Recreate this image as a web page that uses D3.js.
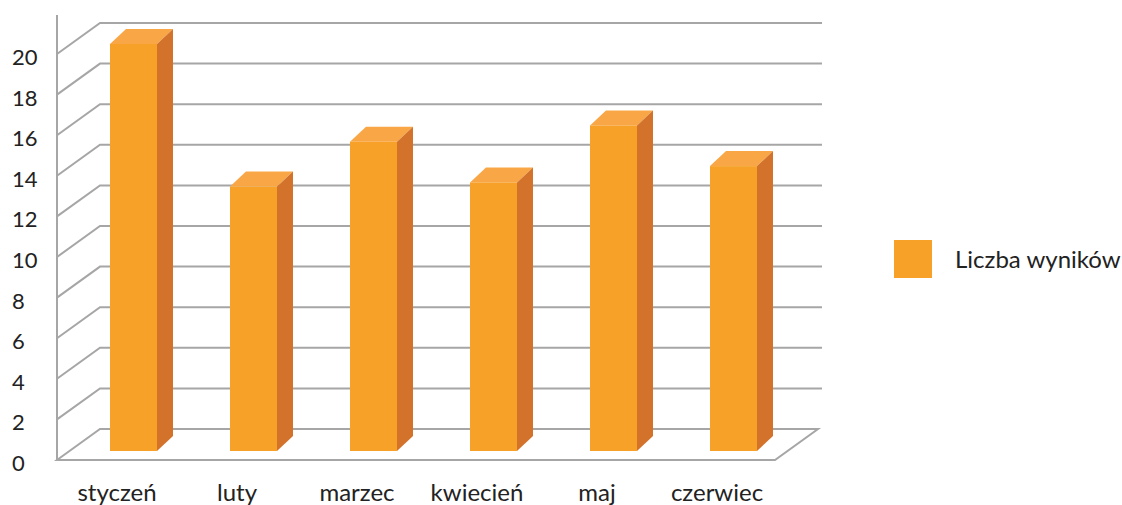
<!DOCTYPE html>
<meta charset="utf-8">
<script src="https://cdn.jsdelivr.net/npm/d3@7"></script>
<style>
  body { margin: 0; background: #fff; }
  text { font-family: Lato, "Open Sans", sans-serif; fill: #222; }
</style>
<svg></svg>
<script>
    var months = ['styczeń', 'luty', 'marzec', 'kwiecień', 'maj', 'czerwiec'];
    var values = [20, 13, 15.2, 13.2, 16, 14];
    var yTicks = [0, 2, 4, 6, 8, 10, 12, 14, 16, 18, 20];
    var seriesName = 'Liczba wyników';

    var svg = d3.select('svg').attr('width', 1122).attr('height', 505);
    var gridColor = '#a6a6a6';
    var depthX = 43, depthY = -31;

    var x = d3.scaleBand().domain(months).range([57, 777]);
    var y = d3.scaleLinear().domain([0, 20]).range([460, 54]);
    var barY = d3.scaleLinear().domain([0, 20]).range([451, 44]);

    // side wall and back wall gridlines
    svg.selectAll('path.grid').data(yTicks).enter().append('path')
        .attr('class', 'grid')
        .attr('fill', 'none')
        .attr('stroke', gridColor)
        .attr('stroke-width', 2)
        .attr('d', d => {
            var yf = y(d), yb = y(d) + depthY;
            if (d === 0) {
                return 'M57,' + yf + 'L' + (57 + depthX) + ',' + yb + 'L818,' + yb +
                    'L775,' + yf + 'Z';
            }
            return 'M57,' + yf + 'L' + (57 + depthX) + ',' + yb + 'L822,' + yb;
        });

    svg.append('line')
        .attr('x1', 57).attr('x2', 57).attr('y1', 15).attr('y2', 461)
        .attr('stroke', gridColor).attr('stroke-width', 2);

    // y labels
    svg.selectAll('text.ytick').data(yTicks).enter().append('text')
        .attr('class', 'ytick')
        .attr('x', 12)
        .attr('y', d => y(d) + 11)
        .attr('font-size', 22)
        .text(d => d);

    // bars
    var bw = 47, dx = 16, dy = -15;
    var bars = svg.selectAll('g.bar').data(values).enter().append('g').attr('class', 'bar');
    var bx = (d, i) => x(months[i]) + x.bandwidth() / 2 + 16.5 - bw / 2;
    bars.append('rect')
        .attr('x', bx)
        .attr('y', d => barY(d))
        .attr('width', bw)
        .attr('height', d => barY(0) - barY(d))
        .attr('fill', '#f7a128');
    bars.append('path')
        .attr('fill', '#f9a746')
        .attr('d', (d, i) => {
            var x0 = bx(d, i), yt = barY(d);
            return 'M' + x0 + ',' + yt + 'l' + dx + ',' + dy + 'l' + bw + ',0l' + (-dx) + ',' + (-dy) + 'Z';
        });
    bars.append('path')
        .attr('fill', '#d3722a')
        .attr('d', (d, i) => {
            var x1 = bx(d, i) + bw, yt = barY(d), yb = barY(0);
            return 'M' + x1 + ',' + yt + 'l' + dx + ',' + dy + 'L' + (x1 + dx) + ',' + (yb + dy) +
                'L' + x1 + ',' + yb + 'Z';
        });

    // x labels
    svg.selectAll('text.xlab').data(months).enter().append('text')
        .attr('class', 'xlab')
        .attr('x', d => x(d) + x.bandwidth() / 2)
        .attr('y', 501)
        .attr('text-anchor', 'middle')
        .attr('font-size', 24)
        .text(d => d);

    // legend
    svg.append('rect')
        .attr('x', 894).attr('y', 240).attr('width', 38).attr('height', 38)
        .attr('fill', '#f7a128');
    svg.append('text')
        .attr('x', 955).attr('y', 268)
        .attr('font-size', 24)
        .text(seriesName);
</script>
